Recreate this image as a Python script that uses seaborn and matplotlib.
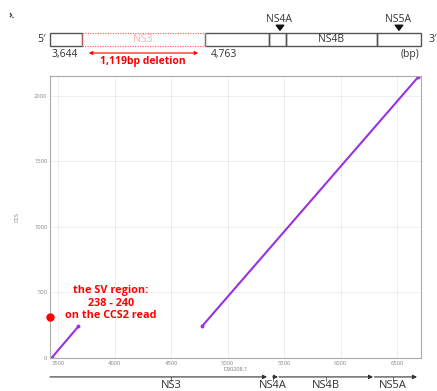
import matplotlib
matplotlib.use("Agg")
import matplotlib.pyplot as plt
from matplotlib.patches import Rectangle, FancyArrowPatch
import numpy as np
import pandas as pd
import seaborn as sns

# ---- data ----
seg_ids = ["s1", "s1", "s2", "s2"]
ref_pos = [3445, 3680, 4775, 6686]      # D90208.1 position
ccs_pos = [0, 238, 240, 2143]           # CCS read position
sv_mark = 310                            # red dot on read axis
x_ticks = [3500, 4000, 4500, 5000, 5500, 6000, 6500]
y_ticks = [0, 500, 1000, 1500, 2000]
gene_names = ["NS3", "NS4A", "NS4B", "NS5A"]
gene_starts = [3429, 5400, 5455, 6300]
gene_ends = [5350, 5447, 6288, 6677]
gene_label_pos = [4500, 5403, 5872, 6465]

df = pd.DataFrame({"seg": seg_ids, "ref": ref_pos, "ccs": ccs_pos})

sns.set_theme(style="whitegrid")
plt.rcParams["font.family"] = ["Open Sans", "DejaVu Sans"]

W, H = 437, 391
fig = plt.figure(figsize=(W / 100, H / 100), dpi=100)

def fx(px):
    return px / W

def fy(py):
    return 1 - py / H

# main axes
ax_l, ax_r, ax_t, ax_b = 50, 421, 76, 358
ax = fig.add_axes([fx(ax_l), fy(ax_b), fx(ax_r - ax_l), (ax_b - ax_t) / H])
sns.lineplot(data=df, x="ref", y="ccs", units="seg", estimator=None,
             color="#9b30e0", lw=1.5, marker="o", markersize=2.8,
             markeredgewidth=0, ax=ax)
ax.set_xlim(3429, 6712)
ax.set_ylim(-3, 2152)
ax.set_xticks(x_ticks)
ax.set_yticks(y_ticks)
ax.tick_params(labelsize=4.2, colors="#888888", length=0, pad=2)
ax.grid(True, color="#ebebeb", lw=0.6)
for s in ax.spines.values():
    s.set_color("#aaaaaa")
    s.set_linewidth(0.8)
ax.set_xlabel("D90208.1", fontsize=4, color="#777777", labelpad=1)
ax.set_ylabel("CCS", fontsize=4, color="#777777", labelpad=10)
ax.plot([ax.get_xlim()[0]], [sv_mark], "o", color="red", markersize=5,
        clip_on=False, zorder=5)

# gene annotation track sharing x
gax = fig.add_axes([fx(ax_l), 0, fx(ax_r - ax_l), fy(370)], sharex=ax)
gax.set_ylim(0, 1)
gax.axis("off")
ytrack = 0.67
for s, e in zip(gene_starts, gene_ends):
    gax.annotate("", xy=(e, ytrack), xytext=(s, ytrack),
                 arrowprops=dict(arrowstyle="-|>", color="#333333", lw=0.8,
                                 mutation_scale=6, shrinkA=0, shrinkB=0))
for name, p in zip(gene_names, gene_label_pos):
    gax.plot([p, p], [ytrack, ytrack - 0.2], color="#555555", lw=0.6)
    gax.text(p, 0.0, name, ha="center", va="bottom", fontsize=8,
             color="#333333")

# top schematic
top, bot = 33, 46
boxes = [(50, 82), (205, 269), (269, 286), (286, 377), (377, 421)]
for a, b in boxes:
    fig.patches.append(Rectangle((fx(a), fy(bot)), fx(b - a), (bot - top) / H,
                                 transform=fig.transFigure, fill=False,
                                 ec="#555555", lw=1.0))
fig.patches.append(Rectangle((fx(82), fy(bot)), fx(205 - 82), (bot - top) / H,
                             transform=fig.transFigure, fill=False,
                             ec="#ff6b6b", lw=0.9, ls=(0, (1, 1))))
fig.text(fx(143), fy(39.5), "NS3", ha="center", va="center", fontsize=7.5,
         color="#ffaaaa")
fig.text(fx(331), fy(39.5), "NS4B", ha="center", va="center", fontsize=7.5,
         color="#333333")
fig.text(fx(41), fy(39.5), "5\u2032", ha="center", va="center", fontsize=7.5,
         color="#333333")
fig.text(fx(433), fy(39.5), "3\u2032", ha="center", va="center", fontsize=7.5,
         color="#333333")
for name, px in [("NS4A", 279), ("NS5A", 398)]:
    fig.text(fx(px), fy(20), name, ha="center", va="center", fontsize=7.5,
             color="#333333")
    fig.patches.append(FancyArrowPatch((fx(px + 1), fy(25)), (fx(px + 1), fy(33)),
                                       transform=fig.transFigure,
                                       arrowstyle="simple,head_width=0.9,head_length=0.6,tail_width=0.4",
                                       mutation_scale=6, color="#111111"))
fig.text(fx(65), fy(54), "3,644", ha="center", va="center", fontsize=7.5,
         color="#333333")
fig.text(fx(224), fy(54), "4,763", ha="center", va="center", fontsize=7.5,
         color="#333333")
fig.text(fx(410), fy(54), "(bp)", ha="center", va="center", fontsize=7.5,
         color="#333333")
fig.patches.append(FancyArrowPatch((fx(86), fy(53)), (fx(201), fy(53)),
                                   transform=fig.transFigure, arrowstyle="<|-|>",
                                   mutation_scale=5, color="red", lw=0.8))
fig.text(fx(143), fy(61.5), "1,119bp deletion", ha="center", va="center",
         fontsize=7.5, color="red", fontweight="bold")
fig.text(fx(12), fy(15), "\u203a.", ha="center", va="center", fontsize=7,
         color="#333333", fontweight="bold")

# SV annotation
fig.text(fx(111), fy(303), "the SV region:\n238 - 240\non the CCS2 read",
         ha="center", va="center", fontsize=7.8, color="red",
         fontweight="bold", linespacing=1.15)

fig.savefig("out.png", dpi=100)
